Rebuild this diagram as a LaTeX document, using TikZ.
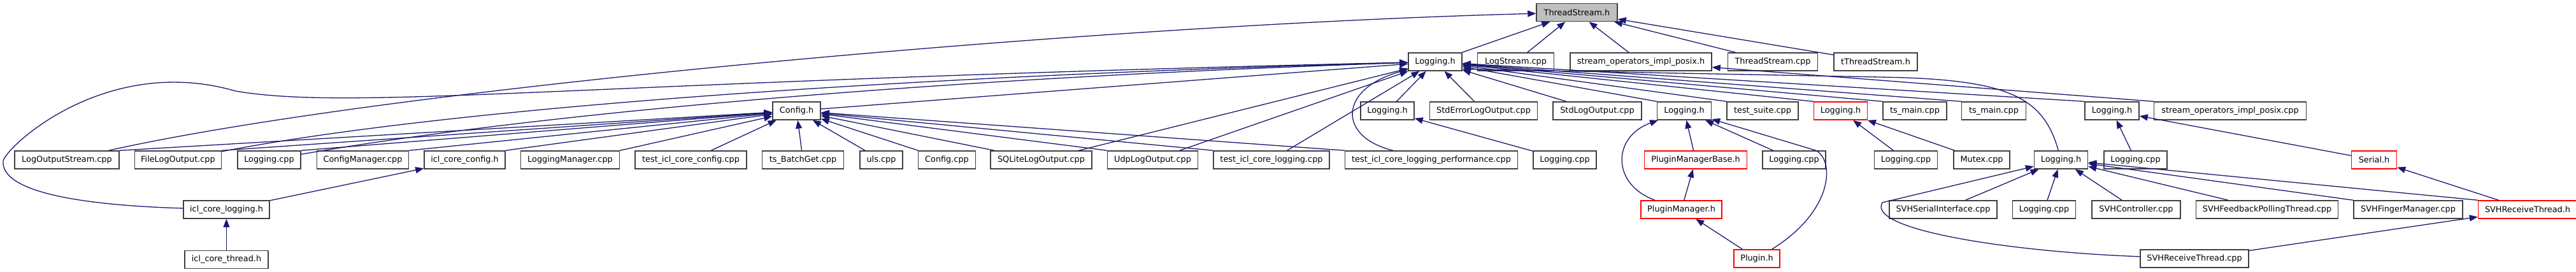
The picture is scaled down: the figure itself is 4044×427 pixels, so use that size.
\documentclass[tikz,border=0pt]{standalone}
\usepackage{fontspec}
\setmainfont{DejaVu Sans}
\usepackage{tikz}
\usetikzlibrary{positioning,arrows.meta}

\definecolor{edgeblue}{HTML}{191970}
\definecolor{boxgray}{HTML}{404040}
\definecolor{rootgray}{HTML}{BFBFBF}

\begin{document}
\begin{tikzpicture}[x=1pt, y=-1pt, node distance=23pt,
    >={Triangle[length=13pt,width=10pt]},
    font=\fontsize{12.85}{15}\selectfont,
    file/.style={draw=boxgray, line width=1.5pt, fill=white, minimum height=28pt, inner sep=0pt},
    root/.style={file, fill=rootgray},
    trunc/.style={file, draw=red},
    dep/.style={->, draw=edgeblue, line width=1.3pt}]
    \useasboundingbox (0,0) rectangle (4044,427);

    % top row: the header itself
    \node [root, minimum width=127pt] (ts) at (2475.5,19.5) {ThreadStream.h};

    % second row
    \node [file, minimum width=84pt]                   (l1)  at (2253,97) {Logging.h};
    \node [file, minimum width=120pt, right=of l1]     (ls)  {LogStream.cpp};
    \node [file, minimum width=222pt, right=24pt of ls]  (soh) {stream\_operators\_impl\_posix.h};
    \node [file, minimum width=141pt, right=24pt of soh] (tsc) {ThreadStream.cpp};
    \node [file, minimum width=131pt, right=24pt of tsc] (tts) {tThreadStream.h};

    % third row
    \node [file, minimum width=75pt]                   (cfg) at (1250.5,174) {Config.h};
    \node [file, minimum width=84pt]                   (l2a) at (2178,174) {Logging.h};
    \node [file, minimum width=169pt, right=of l2a]    (sel) {StdErrorLogOutput.cpp};
    \node [file, minimum width=139pt, right=of sel]    (slo) {StdLogOutput.cpp};
    \node [file, minimum width=85pt, right=of slo]     (l2b) {Logging.h};
    \node [file, minimum width=112pt, right=of l2b]    (tsu) {test\_suite.cpp};
    \node [trunc, minimum width=84pt, right=of tsu]    (l2c) {Logging.h};
    \node [file, minimum width=100pt, right=of l2c]    (tm1) {ts\_main.cpp};
    \node [file, minimum width=101pt, right=22pt of tm1] (tm2) {ts\_main.cpp};
    \node [file, minimum width=85pt, right=91pt of tm2]  (l2d) {Logging.h};
    \node [file, minimum width=239pt, right=22pt of l2d] (soc) {stream\_operators\_impl\_posix.cpp};

    % fourth row
    \node [file, minimum width=164pt]                  (los) at (105,251) {LogOutputStream.cpp};
    \node [file, minimum width=136pt, right=of los]    (flo) {FileLogOutput.cpp};
    \node [file, minimum width=99pt, right=24pt of flo]  (lc1) {Logging.cpp};
    \node [file, minimum width=144pt, right=24pt of lc1] (cm)  {ConfigManager.cpp};
    \node [file, minimum width=127pt, right=of cm]     (icc) {icl\_core\_config.h};
    \node [file, minimum width=155pt, right=of icc]    (lm)  {LoggingManager.cpp};
    \node [file, minimum width=175pt, right=of lm]     (tcc) {test\_icl\_core\_config.cpp};
    \node [file, minimum width=128pt, right=of tcc]    (bg)  {ts\_BatchGet.cpp};
    \node [file, minimum width=67pt, right=24pt of bg]   (uls) {uls.cpp};
    \node [file, minimum width=90pt, right=of uls]     (cfc) {Config.cpp};
    \node [file, minimum width=159pt, right=22pt of cfc] (sql) {SQLiteLogOutput.cpp};
    \node [file, minimum width=142pt, right=of sql]    (udp) {UdpLogOutput.cpp};
    \node [file, minimum width=182pt, right=of udp]    (tcl) {test\_icl\_core\_logging.cpp};
    \node [file, minimum width=271pt, right=of tcl]    (tlp) {test\_icl\_core\_logging\_performance.cpp};
    \node [file, minimum width=99pt, right=of tlp]     (lc2) {Logging.cpp};
    \node [trunc, minimum width=161pt, right=74pt of lc2] (pmb) {PluginManagerBase.h};
    \node [file, minimum width=99pt, right=of pmb]     (lc3) {Logging.cpp};
    \node [file, minimum width=99pt, right=75pt of lc3]  (lc4) {Logging.cpp};
    \node [file, minimum width=88pt, right=24pt of lc4]  (mtx) {Mutex.cpp};
    \node [file, minimum width=84pt, right=37pt of mtx]  (l3)  {Logging.h};
    \node [file, minimum width=99pt, right=24pt of l3]   (lc5) {Logging.cpp};
    \node [trunc, minimum width=71pt, right=288pt of lc5] (ser) {Serial.h};

    % fifth row
    \node [file, minimum width=135pt]                  (icl) at (355.5,329) {icl\_core\_logging.h};
    \node [trunc, minimum width=127pt]                 (pm)  at (2639.5,329) {PluginManager.h};
    \node [file, minimum width=169pt]                  (ssi) at (3050.5,329) {SVHSerialInterface.cpp};
    \node [file, minimum width=99pt, right=of ssi]     (lc6) {Logging.cpp};
    \node [file, minimum width=139pt, right=24pt of lc6] (ctl) {SVHController.cpp};
    \node [file, minimum width=223pt, right=of ctl]    (fpt) {SVHFeedbackPollingThread.cpp};
    \node [file, minimum width=171pt, right=of fpt]    (fm)  {SVHFingerManager.cpp};
    \node [trunc, minimum width=155pt, right=of fm]    (rth) {SVHReceiveThread.h};

    % bottom row
    \node [file, minimum width=131pt, below=49pt of icl] (ict) {icl\_core\_thread.h};
    \node [trunc, minimum width=72pt]                  (plg) at (2758,406) {Plugin.h};
    \node [file, minimum width=170pt]                  (rtc) at (3445,406) {SVHReceiveThread.cpp};

    % into ThreadStream.h
    \draw [dep] (los) .. controls (600,140) and (1700,40) .. (ts);
    \draw [dep] (l1)  -- (ts);
    \draw [dep] (ls)  -- (ts);
    \draw [dep] (soh) -- (ts);
    \draw [dep] (tsc) -- (ts);
    \draw [dep] (tts) -- (ts);

    % into the first Logging.h, from the left
    \draw [dep] (cfg) -- (l1);
    \draw [dep] (flo) .. controls (700,170) and (1400,120) .. (l1);
    \draw [dep] (lc1) .. controls (800,185) and (1400,125) .. (l1);
    \draw [dep] (icl) .. controls (120,322) and (0,300) .. (5,252)
                      .. controls (15,225) and (170,85) .. (370,143)
                      .. controls (560,175) and (900,128) .. (l1);
    \draw [dep] (sql) -- (l1);
    \draw [dep] (udp) -- (l1);
    \draw [dep] (tcl) -- (l1);
    \draw [dep] (tlp) .. controls (2100,215) and (2100,140) .. (l1);

    % into the first Logging.h, from the right
    \draw [dep] (l2a) -- (l1);
    \draw [dep] (sel) -- (l1);
    \draw [dep] (slo) -- (l1);
    \draw [dep] (l2b.north west) -- (l1);
    \draw [dep] (tsu.north west) -- (l1);
    \draw [dep] (l2c.north west) -- (l1);
    \draw [dep] (tm1.north west) -- (l1);
    \draw [dep] (tm2.north west) -- (l1);
    \draw [dep] (l3) .. controls (3207,150) and (3150,124) .. (2950,121) -- (l1.-15);
    \draw [dep] (l2d.north west) -- (l1);
    \draw [dep] (soc.north west) -- (soh);

    % into Config.h
    \draw [dep] (los.north east) -- (cfg);
    \draw [dep] (flo.north east) -- (cfg);
    \draw [dep] (lc1.north east) -- (cfg);
    \draw [dep] (cm.north east)  -- (cfg);
    \draw [dep] (icc.north east) -- (cfg);
    \draw [dep] (lm.north east)  -- (cfg);
    \draw [dep] (tcc) -- (cfg);
    \draw [dep] (bg)  -- (cfg);
    \draw [dep] (uls) -- (cfg);
    \draw [dep] (cfc) -- (cfg);
    \draw [dep] (sql) -- (cfg);
    \draw [dep] (udp.north west) -- (cfg);
    \draw [dep] (tcl.north west) -- (cfg);
    \draw [dep] (tlp.north west) -- (cfg);

    % lower levels
    \draw [dep] (icl) -- (icc);
    \draw [dep] (ict) -- (icl);
    \draw [dep] (lc2) -- (l2a);
    \draw [dep] (pmb) -- (l2b);
    \draw [dep] (lc3) -- (l2b);
    \draw [dep] (pm) .. controls (2530,290) and (2530,215) .. (l2b);
    \draw [dep] (plg) .. controls (2880,330) and (2880,250) .. (2850,236) -- (l2b);
    \draw [dep] (pm)  -- (pmb);
    \draw [dep] (plg) -- (pm);
    \draw [dep] (lc4) -- (l2c);
    \draw [dep] (mtx) -- (l2c);
    \draw [dep] (lc5) -- (l2d);
    \draw [dep] (ser) -- (l2d);
    \draw [dep] (rth) -- (ser);
    \draw [dep] (ssi) -- (l3);
    \draw [dep] (lc6) -- (l3);
    \draw [dep] (ctl) -- (l3);
    \draw [dep] (fpt) -- (l3);
    \draw [dep] (fm.north west)  -- (l3);
    \draw [dep] (rth.north west) -- (l3);
    \draw [dep] (rtc) .. controls (3150,395) and (2930,360) .. (2955,318) -- (l3);
    \draw [dep] (rtc) -- (rth);
\end{tikzpicture}
\end{document}
